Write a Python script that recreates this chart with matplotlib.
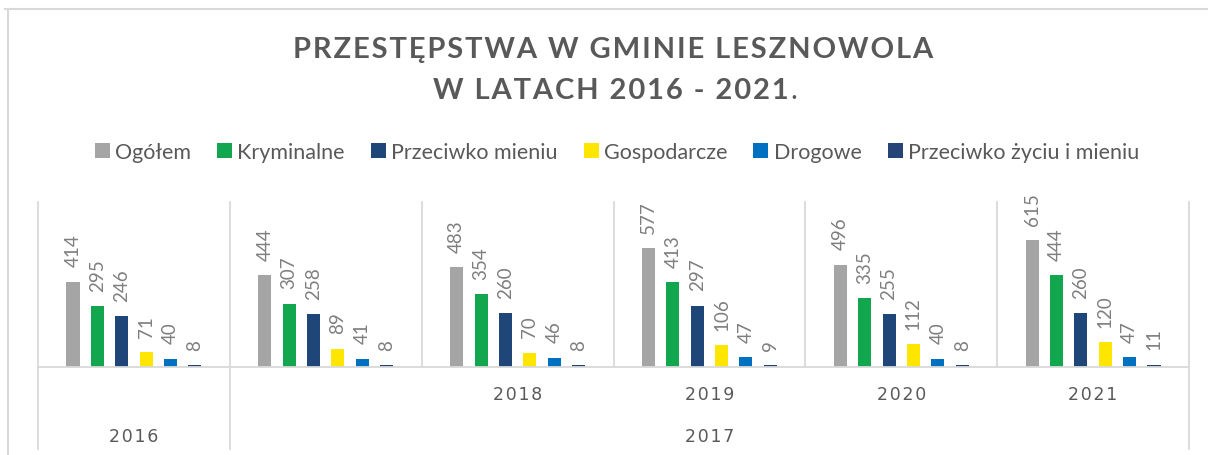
import matplotlib.pyplot as plt
import numpy as np
from matplotlib.patches import Patch
from matplotlib.lines import Line2D

# dane z wykresu
years = ["2016", "2017", "2018", "2019", "2020", "2021"]
series_names = ["Ogółem", "Kryminalne", "Przeciwko mieniu", "Gospodarcze",
                "Drogowe", "Przeciwko życiu i mieniu"]
ogolem = [414, 444, 483, 577, 496, 615]
kryminalne = [295, 307, 354, 413, 335, 444]
mienie = [246, 258, 260, 297, 255, 260]
gospodarcze = [71, 89, 70, 106, 112, 120]
drogowe = [40, 41, 46, 47, 40, 47]
zycie_mienie = [8, 8, 8, 9, 8, 11]

# etykiety osi (dwa poziomy, jak w oryginale)
inner_labels = ["", "", "2018", "2019", "2020", "2021"]
outer_labels = [("2016", 0, 1), ("2017", 1, 6)]

colors = ["#A5A5A5", "#12A64F", "#1F4679", "#FFE600", "#0070C0", "#264478"]
grid = "#D9D9D9"
txt = "#595959"
HS = "\u200a"

W, H = 1208, 456
fig = plt.figure(figsize=(W / 100, H / 100), dpi=100)
ax = fig.add_axes([38 / W, 88 / H, (1189 - 38) / W, 165 / H])

data = [ogolem, kryminalne, mienie, gospodarcze, drogowe, zycie_mienie]
x = np.arange(len(years)) + 0.5
step = 0.127
bw = 0.068
for j, vals in enumerate(data):
    xs = x + (j - 2.5) * step
    ax.bar(xs, vals, width=bw, color=colors[j], zorder=3)
    for xi, v in zip(xs, vals):
        ax.annotate(str(v), (xi, v), xytext=(0, 11), textcoords="offset points",
                    rotation=90, ha="center", va="bottom", color="#7F7F7F",
                    fontsize=13.5, family=["Lato", "DejaVu Sans"])

ax.set_xlim(0, 6)
ax.set_ylim(0, 800)
ax.axis("off")

xt = ax.get_xaxis_transform()
low = -82 / 165
for b in range(0, 7):
    y0 = low if b in (0, 1, 6) else 0
    ax.plot([b, b], [y0, 1], transform=xt, color=grid, lw=1.3, clip_on=False, zorder=1)
ax.plot([0, 6], [0, 0], transform=xt, color=grid, lw=1.3, clip_on=False, zorder=4)

for i, lab in enumerate(inner_labels):
    if lab:
        ax.text(i + 0.5, -27 / 165, HS.join(lab), transform=xt, ha="center",
                va="center", color=txt, fontsize=12.5, family=["DejaVu Sans"])
for lab, a, b in outer_labels:
    ax.text((a + b) / 2, -69 / 165, HS.join(lab), transform=xt, ha="center",
            va="center", color=txt, fontsize=12.5, family=["DejaVu Sans"])

# tytuł
t1 = "PRZESTĘPSTWA W GMINIE LESZNOWOLA"
t2 = "W LATACH 2016 - 2021"
fig.text(613 / W, 1 - 50 / H, HS.join(t1), ha="center", va="center", color=txt,
         fontsize=21, fontweight="bold", family=["Lato", "DejaVu Sans"])
tl2 = fig.text(611 / W, 1 - 91 / H, HS.join(t2), ha="center", va="center", color=txt,
               fontsize=21, fontweight="bold", family=["Lato", "DejaVu Sans"])
fig.canvas.draw()
bb = tl2.get_window_extent()
fig.text((bb.x1 + 2) / W, 1 - 91 / H, ".", ha="left", va="center", color=txt,
         fontsize=21, family=["Lato", "DejaVu Sans"])

# legenda
handles = [Patch(facecolor=c, edgecolor="none") for c in colors]
fig.legend(handles, series_names, loc="center", bbox_to_anchor=(617 / W, 1 - 153 / H),
           ncol=6, frameon=False, handlelength=0.7, handleheight=0.7,
           handletextpad=0.25, columnspacing=1.2, labelcolor=txt,
           prop={"family": ["Lato", "DejaVu Sans"], "size": 15.5})

# ramka
fig.add_artist(Line2D([5 / W, 1], [1 - 10 / H] * 2, transform=fig.transFigure,
                      color=grid, lw=1.5))
fig.add_artist(Line2D([8 / W] * 2, [0, 1 - 10 / H], transform=fig.transFigure,
                      color=grid, lw=1.5))

fig.savefig("out.png", dpi=100)
